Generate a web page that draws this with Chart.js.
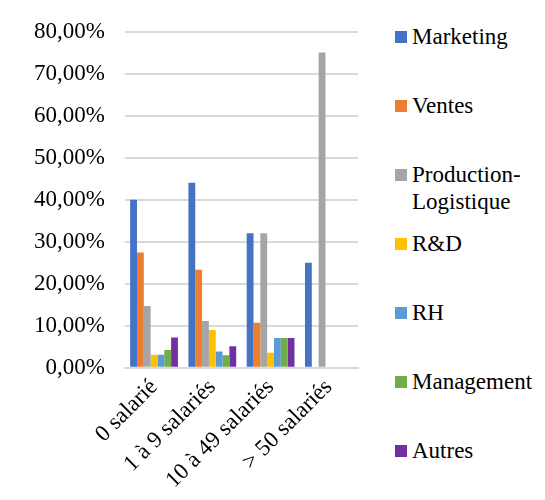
<!DOCTYPE html>
<html lang="fr">
<head>
<meta charset="utf-8">
<script src="https://cdn.jsdelivr.net/npm/chart.js"></script>
<style>
  body { margin: 0; background: #fff; }
  #wrap { position: relative; width: 545px; height: 500px; }
  #chart-box { position: absolute; left: 0; top: 0; width: 380px; height: 500px; }
  #legend { position: absolute; left: 395px; top: 23px; margin: 0; padding: 0; list-style: none; font-family: 'Times New Roman', 'Liberation Serif', Tinos, serif; font-size: 23px; color: #000; }
  #legend li { position: relative; height: 69px; padding-left: 17px; line-height: 27px; }
  #legend li span { position: absolute; left: 0; top: 8px; width: 12px; height: 12px; }
</style>
</head>
<body>
<div id="wrap">
  <div id="chart-box"><canvas id="bars"></canvas></div>
  <ul id="legend"></ul>
</div>
<script>
const categories = ['0 salarié', '1 à 9 salariés', '10 à 49 salariés', '> 50 salariés'];
const seriesNames = ['Marketing', 'Ventes', 'Production-\nLogistique', 'R&D', 'RH', 'Management', 'Autres'];
const seriesColors = ['#4472C4', '#ED7D31', '#A5A5A5', '#FFC000', '#5B9BD5', '#70AD47', '#7030A0'];

const marketing = [40, 44, 32, 25];
const ventes = [27.4, 23.3, 10.7, 0];
const production = [14.7, 11.1, 32, 75];
const rd = [3.1, 9, 3.6, 0];
const rh = [3.1, 3.9, 7.1, 0];
const management = [4.2, 3, 7.1, 0];
const autres = [7.2, 5.1, 7.1, 0];

const yTicks = [0, 10, 20, 30, 40, 50, 60, 70, 80];

const seriesValues = [marketing, ventes, production, rd, rh, management, autres];
const font = { family: "'Times New Roman', 'Liberation Serif', Tinos, serif", size: 23 };

// legende en html, comme dans excel
const legend = document.getElementById('legend');
seriesNames.forEach((name, i) => {
    const li = document.createElement('li');
    const box = document.createElement('span');
    box.style.background = seriesColors[i];
    li.appendChild(box);
    name.split('\n').forEach((line, k) => {
        if (k > 0) li.appendChild(document.createElement('br'));
        li.appendChild(document.createTextNode(line));
    });
    legend.appendChild(li);
});

new Chart(document.getElementById('bars').getContext('2d'), {
    type: 'bar',
    data: {
        labels: categories,
        datasets: seriesValues.map((vals, i) => ({
            label: seriesNames[i].replace('\n', ''),
            data: vals,
            backgroundColor: seriesColors[i],
            borderWidth: 0,
            barPercentage: 1,
            categoryPercentage: 0.82
        }))
    },
    options: {
        responsive: true,
        maintainAspectRatio: false,
        animation: false,
        layout: { padding: { top: 0, left: 14, right: 22, bottom: 0 } },
        plugins: {
            legend: { display: false },
            tooltip: { enabled: false }
        },
        scales: {
            x: {
                grid: { display: false, drawTicks: false },
                border: { color: '#d9d9d9', width: 2 },
                ticks: { color: '#000', font: font, minRotation: 45, maxRotation: 45, autoSkip: false, padding: 6 }
            },
            y: {
                min: 0,
                max: 80,
                afterBuildTicks: axis => { axis.ticks = yTicks.map(v => ({ value: v })); },
                grid: { color: '#d9d9d9', lineWidth: 2, drawTicks: false },
                border: { display: false },
                ticks: {
                    color: '#000',
                    font: { ...font, lineHeight: 1 },
                    padding: 20,
                    callback: v => v.toFixed(2).replace('.', ',') + '%'
                }
            }
        }
    }
});
</script>
</body>
</html>
